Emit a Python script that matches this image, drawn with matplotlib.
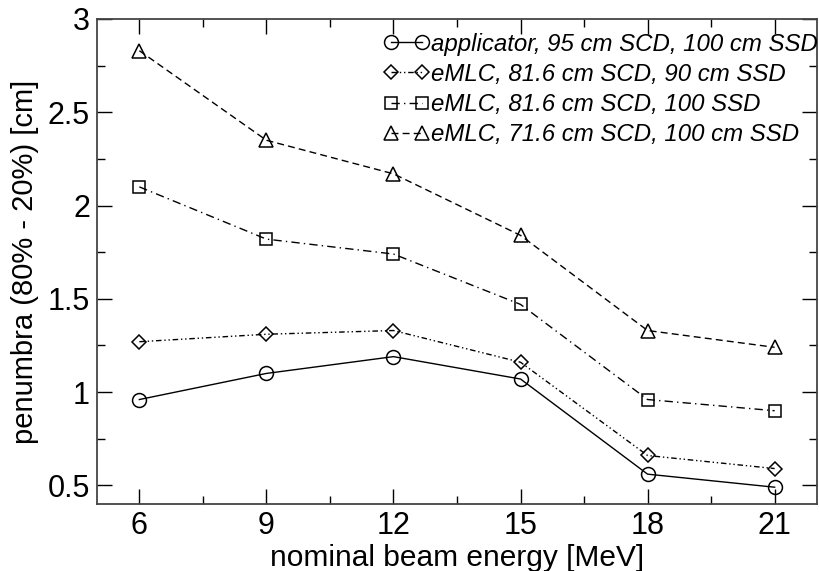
import matplotlib.pyplot as plt
from matplotlib.ticker import MultipleLocator

plt.rcParams['font.family'] = ['Liberation Sans', 'DejaVu Sans']

energy = [6, 9, 12, 15, 18, 21]
applicator_95 = [0.96, 1.10, 1.19, 1.07, 0.56, 0.49]
emlc_816_90 = [1.27, 1.31, 1.33, 1.16, 0.66, 0.59]
emlc_816_100 = [2.10, 1.82, 1.74, 1.47, 0.96, 0.90]
emlc_716_100 = [2.83, 2.35, 2.17, 1.84, 1.33, 1.24]

labels = ['applicator, 95 cm SCD, 100 cm SSD',
          'eMLC, 81.6 cm SCD, 90 cm SSD',
          'eMLC, 81.6 cm SCD, 100 SSD',
          'eMLC, 71.6 cm SCD, 100 cm SSD']

fig = plt.figure(figsize=(8.2, 5.71), dpi=100)
ax = fig.add_axes([97 / 820, 1 - 504 / 571, 720 / 820, 485 / 571])

ms = 10
common = dict(color='black', lw=1.0, mfc='none', mec='black', mew=1.1)
ax.plot(energy, applicator_95, marker='o', ms=ms, ls='-', label=labels[0], **common)
ax.plot(energy, emlc_816_90, marker='D', ms=ms * 0.72, ls=(0, (4, 2, 1, 2, 1, 2)),
        label=labels[1], **common)
ax.plot(energy, emlc_816_100, marker='s', ms=ms * 0.85, ls=(0, (6, 3, 1, 3)),
        label=labels[2], **common)
ax.plot(energy, emlc_716_100, marker='^', ms=ms * 1.05, ls=(0, (5, 3)),
        label=labels[3], **common)

ax.set_xlim(5, 22)
ax.set_ylim(0.4, 3.0)
ax.xaxis.set_major_locator(MultipleLocator(3))
ax.xaxis.set_minor_locator(MultipleLocator(1.5))
ax.yaxis.set_major_locator(MultipleLocator(0.5))
ax.yaxis.set_minor_locator(MultipleLocator(0.25))
ax.set_yticks([0.5, 1, 1.5, 2, 2.5, 3])
ax.set_yticklabels(['0.5', '1', '1.5', '2', '2.5', '3'])
ax.tick_params(which='both', direction='in', top=True, right=True, width=1.0,
               labelsize=22, pad=5)
ax.tick_params(which='major', length=11)
ax.tick_params(which='minor', length=6)
for sp in ax.spines.values():
    sp.set_linewidth(1.3)
    sp.set_color('#444444')

ax.set_xlabel('nominal beam energy [MeV]', fontsize=21.5, labelpad=2)
ax.set_ylabel('penumbra (80% - 20%) [cm]', fontsize=21, labelpad=6)

leg = ax.legend(loc='upper left', bbox_to_anchor=(0.398, 0.972), frameon=False,
                numpoints=2, handlelength=1.9, handletextpad=0.08,
                labelspacing=0.3, borderaxespad=0, borderpad=0,
                prop={'size': 17.3, 'style': 'italic'})

fig.savefig('out.png', dpi=100)
